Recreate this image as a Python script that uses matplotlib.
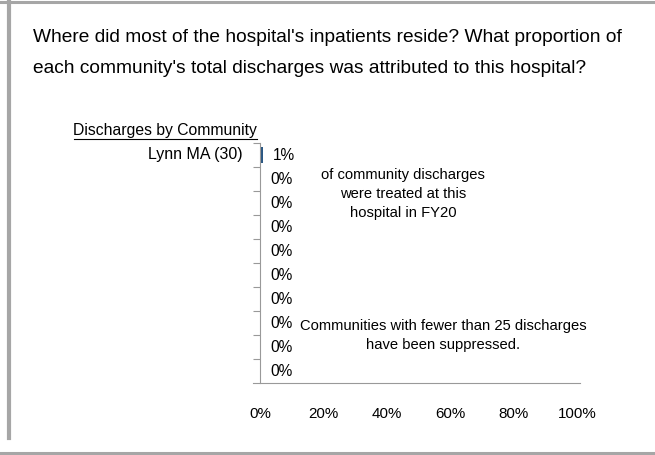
import matplotlib
matplotlib.use('Agg')
import matplotlib.pyplot as plt

plt.rcParams['font.family'] = ['Liberation Sans', 'DejaVu Sans']

# datos
communities = ['Lynn MA (30)', '', '', '', '', '', '', '', '', '']
share = [0.01, 0, 0, 0, 0, 0, 0, 0, 0, 0]
x_ticks = [0, 0.2, 0.4, 0.6, 0.8, 1.0]
x_labels = ['0%', '20%', '40%', '60%', '80%', '100%']

W, H = 655, 455
fig = plt.figure(figsize=(W / 100, H / 100), dpi=100)

def px_text(x, y, s, **kw):
    # poner texto en coordenadas de pixel (origen arriba a la izquierda)
    return fig.text(x / W, 1 - y / H, s, **kw)

# bordes grises del panel
gray = '#a6a6a6'
fig.add_artist(plt.Line2D([0, 1], [1 - 1.5 / H, 1 - 1.5 / H], color=gray, lw=2.2))
fig.add_artist(plt.Line2D([0, 1], [1 - 453 / H, 1 - 453 / H], color=gray, lw=2.2))
fig.add_artist(plt.Line2D([9 / W, 9 / W], [1, 1 - 438 / H], color=gray, lw=3))

# titulo
px_text(33, 42, "Where did most of the hospital's inpatients reside? What proportion of",
        fontsize=13.8, va='baseline')
px_text(33, 73, "each community's total discharges was attributed to this hospital?",
        fontsize=13.8, va='baseline')

px_text(257, 130, 'Discharges by Community', fontsize=11.3, ha='right', va='center')
fig.add_artist(plt.Line2D([74 / W, 257 / W], [1 - 139 / H, 1 - 139 / H], color='black', lw=0.8))

# ejes
ax_l, ax_r, ax_t, ax_b = 253, 580, 143, 383
ax = fig.add_axes([ax_l / W, 1 - ax_b / H, (ax_r - ax_l) / W, (ax_b - ax_t) / H])
n = len(communities)
rows = list(range(n))
ax.barh(rows, share, height=0.65, color='#2a5783')
ax.set_ylim(n - 0.5, -0.5)
ax.set_xlim(-0.022, 1.0095)

for i, (name, v) in enumerate(zip(communities, share)):
    ax.annotate(name, xy=(0, i), xytext=(-17, 0), textcoords='offset pixels',
                ha='right', va='center', fontsize=11.5)
    ax.annotate(f'{v:.0%}', xy=(v, i), xytext=(10, 0), textcoords='offset pixels',
                ha='left', va='center', fontsize=11.2)

ax.spines['top'].set_visible(False)
ax.spines['right'].set_visible(False)
ax.spines['left'].set_position(('data', 0))
ax.spines['left'].set_color('#999999')
ax.spines['bottom'].set_color('#999999')
ax.set_yticks([r - 0.5 for r in rows])
ax.set_yticklabels([])
ax.tick_params(axis='y', length=5, color='#999999', direction='out')
ax.set_xticks(x_ticks)
ax.set_xticklabels(x_labels, fontsize=10.9)
ax.tick_params(axis='x', length=0, pad=17)

# notas
for k, line in enumerate(['of community discharges', 'were treated at this', 'hospital in FY20']):
    px_text(403, 175 + 19 * k, line, fontsize=10.6, ha='center', va='center')
for k, line in enumerate(['Communities with fewer than 25 discharges', 'have been suppressed.']):
    px_text(443, 326 + 19 * k, line, fontsize=10.6, ha='center', va='center')

fig.savefig('out.png', dpi=100)
